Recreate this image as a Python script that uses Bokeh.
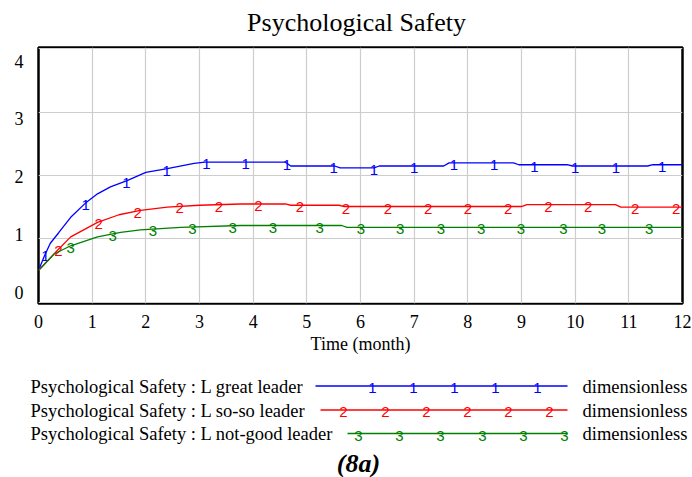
import numpy as np
from bokeh.plotting import figure
from bokeh.layouts import column
from bokeh.models import Range1d, LinearAxis, FixedTicker
from bokeh.core.properties import value
from bokeh.embed import file_html
from bokeh.resources import INLINE

# ---------------- data ----------------
title_text = "Psychological Safety"
x_label = "Time (month)"
x_ticks = list(range(0, 13))
y_ticks = [0, 1, 2, 3, 4]

great_t = [0, 0.1, 0.22, 0.38, 0.6, 0.87, 1.1, 1.34, 1.65, 2.0, 2.4, 2.9, 3.1,
           4.6, 4.7, 5.52, 5.62, 6.25, 6.35, 7.55, 7.65, 8.85, 8.95, 9.85, 9.95,
           11.35, 11.45, 12]
great_v = [0.5, 0.71, 0.93, 1.10, 1.34, 1.56, 1.71, 1.82, 1.92, 2.05, 2.11, 2.19, 2.21,
           2.21, 2.15, 2.15, 2.12, 2.12, 2.15, 2.15, 2.20, 2.20, 2.17, 2.17, 2.15,
           2.15, 2.17, 2.17]

soso_t = [0, 0.35, 0.6, 1.1, 1.5, 1.9, 2.4, 3.0, 3.77, 4.6, 4.7, 5.6, 5.7,
          9.0, 9.1, 10.75, 10.85, 12]
soso_v = [0.5, 0.815, 1.03, 1.26, 1.38, 1.45, 1.50, 1.53, 1.55, 1.55, 1.53, 1.53, 1.51,
          1.51, 1.54, 1.54, 1.50, 1.50]

notgood_t = [0, 0.29, 0.6, 1.1, 1.53, 1.9, 2.65, 3.77, 5.65, 5.75, 12]
notgood_v = [0.5, 0.76, 0.89, 1.03, 1.10, 1.14, 1.18, 1.21, 1.21, 1.18, 1.18]

# times at which the series number markers sit on the curves
great_mark_t = [0.13, 0.88, 1.64, 2.39, 3.13, 3.86, 4.63, 5.50, 6.25, 7.00, 7.74,
                8.49, 9.24, 10.0, 10.76, 11.62]
soso_mark_t = [0.37, 1.12, 1.85, 2.63, 3.36, 4.10, 4.87, 5.73, 6.51, 7.26, 8.00,
               8.75, 9.50, 10.24, 11.12, 11.88]
notgood_mark_t = [0.60, 1.38, 2.13, 2.87, 3.62, 4.37, 5.24, 6.01, 6.74, 7.50, 8.25,
                  8.99, 9.78, 10.50, 11.38]

series_names = ["Psychological Safety : L great leader",
                "Psychological Safety : L so-so leader",
                "Psychological Safety : L not-good leader"]
series_units = ["dimensionless", "dimensionless", "dimensionless"]
series_digits = ["1", "2", "3"]
caption = "(8a)"

# ---------------- style ----------------
colors = ["#0000ff", "#ff0000", "#008000"]
SERIF = "Liberation Serif"
SANS = "Liberation Sans"

W = 692
H_TOP = 45
H_MAIN = 315
H_LEG = 117
BL, BR = 38, 10   # left / right borders of the plot frame

# ---------------- title panel (coordinates = page pixels) ----------------
top = figure(width=W, height=H_TOP, output_backend="svg", toolbar_location=None,
             x_axis_type=None, y_axis_type=None,
             x_range=Range1d(BL, W - BR), y_range=Range1d(H_TOP, 0),
             min_border_left=BL, min_border_right=BR,
             min_border_top=0, min_border_bottom=0)
top.grid.visible = False
top.outline_line_color = None
top.text(x=[356], y=[22], text=[title_text], text_color="black",
         text_font=value(SERIF), text_font_size="26px",
         text_align="center", text_baseline="alphabetic")

# ---------------- main plot ----------------
p = figure(width=W, height=H_MAIN, output_backend="svg", toolbar_location=None,
           x_range=Range1d(0, 12), y_range=Range1d(-0.022, 4.022),
           min_border_left=BL, min_border_right=BR, min_border_top=2,
           min_border_bottom=57)
p.outline_line_color = "black"
p.outline_line_width = 2.5
p.background_fill_color = "white"
p.border_fill_color = "white"

p.xgrid.ticker = FixedTicker(ticks=x_ticks)
p.ygrid.ticker = FixedTicker(ticks=y_ticks)
for g in (p.xgrid, p.ygrid):
    g.grid_line_color = "#cdcdcd"
    g.grid_line_width = 1.2

xa = p.xaxis[0]
xa.ticker = FixedTicker(ticks=x_ticks)
xa.axis_line_color = None
xa.major_tick_line_color = None
xa.minor_tick_line_color = None
xa.major_label_text_font = SERIF
xa.major_label_text_font_size = "18px"
xa.major_label_text_color = "black"
xa.major_label_standoff = 5
xa.axis_label = x_label
xa.axis_label_text_font = SERIF
xa.axis_label_text_font_size = "18px"
xa.axis_label_text_font_style = "normal"
xa.axis_label_text_color = "black"
xa.axis_label_standoff = 3

# main y axis hidden; labels come from an offset label axis (as in the original)
p.yaxis.visible = False
p.extra_y_ranges = {"lab": Range1d(-0.196, 4.237)}
ya = LinearAxis(y_range_name="lab", ticker=FixedTicker(ticks=y_ticks))
ya.axis_line_color = None
ya.major_tick_line_color = None
ya.minor_tick_line_color = None
ya.major_tick_out = 0
ya.minor_tick_out = 0
ya.major_label_text_font = SERIF
ya.major_label_text_font_size = "18px"
ya.major_label_text_color = "black"
ya.major_label_standoff = 15
p.add_layout(ya, "left")

series = [(great_t, great_v, great_mark_t),
          (soso_t, soso_v, soso_mark_t),
          (notgood_t, notgood_v, notgood_mark_t)]
for (t, v, mt), c, d in zip(series, colors, series_digits):
    p.line(t, v, line_color=c, line_width=1.3)
    my = np.interp(mt, t, v)
    p.text(x=mt, y=my, text=[d] * len(mt), text_color=c,
           text_font=value(SANS), text_font_size="15px",
           text_align="center", text_baseline="middle", y_offset=2)

# ---------------- legend panel (coordinates = page pixels) ----------------
Y0 = H_TOP + H_MAIN
leg = figure(width=W, height=H_LEG, output_backend="svg", toolbar_location=None,
             x_axis_type=None, y_axis_type=None,
             x_range=Range1d(0, W), y_range=Range1d(Y0 + H_LEG, Y0),
             min_border=0, min_border_left=0, min_border_right=0,
             min_border_top=0, min_border_bottom=0)
leg.grid.visible = False
leg.outline_line_color = None
leg.border_fill_color = "white"

row_y = [385.5, 409.5, 433]
line_x0 = [315, 320, 347]
line_x1 = [567, 567, 567]
digit_x = [[372, 413, 454, 495, 537],
           [343, 385, 426, 467, 508, 549],
           [358, 399, 440, 482, 523, 564]]
for i in range(3):
    leg.text(x=[30], y=[row_y[i] + 0.5], text=[series_names[i]], text_color="black",
             text_font=value(SERIF), text_font_size="18.5px",
             text_align="left", text_baseline="middle")
    leg.line([line_x0[i], line_x1[i]], [row_y[i], row_y[i]],
             line_color=colors[i], line_width=1.3)
    leg.text(x=digit_x[i], y=[row_y[i] + 2] * len(digit_x[i]),
             text=[series_digits[i]] * len(digit_x[i]), text_color=colors[i],
             text_font=value(SANS), text_font_size="15px",
             text_align="center", text_baseline="middle")
    leg.text(x=[582], y=[row_y[i] + 0.5], text=[series_units[i]], text_color="black",
             text_font=value(SERIF), text_font_size="18.5px",
             text_align="left", text_baseline="middle")
leg.text(x=[358], y=[463], text=[caption], text_color="black",
         text_font=value(SERIF), text_font_size="26px", text_font_style="bold italic",
         text_align="center", text_baseline="middle")

layout = column(top, p, column(leg, spacing=0), spacing=0)
open("out.html", "w").write(file_html(layout, INLINE))
